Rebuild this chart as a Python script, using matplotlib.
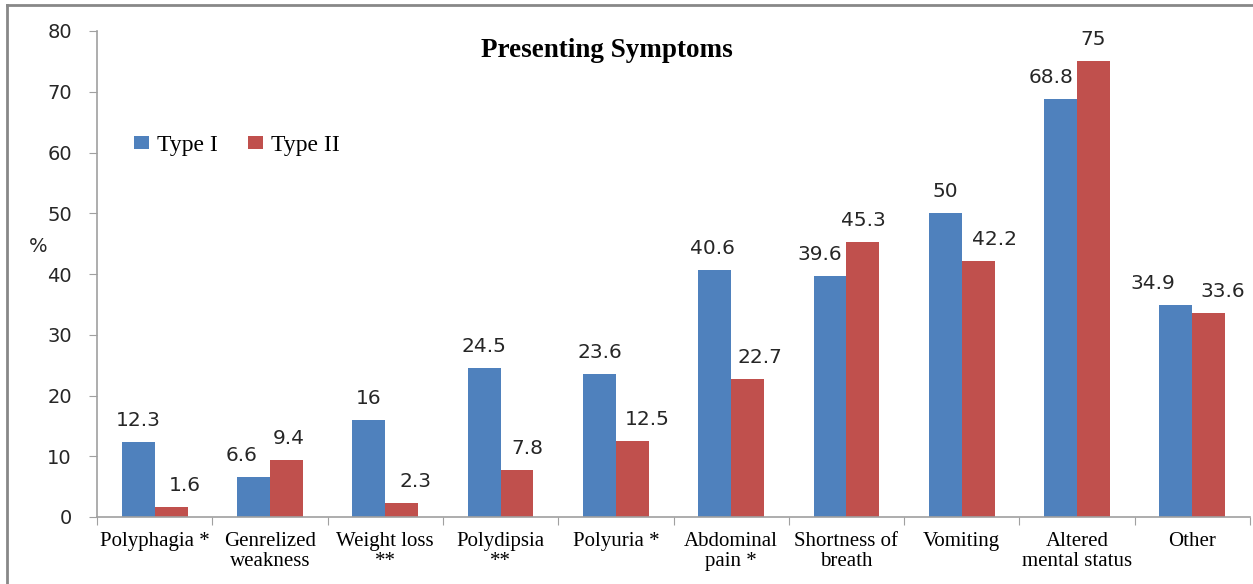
import numpy as np
import matplotlib
matplotlib.use("Agg")
import matplotlib.pyplot as plt
from matplotlib.lines import Line2D

categories = ["Polyphagia *", "Genrelized\nweakness", "Weight loss\n**", "Polydipsia\n**",
              "Polyuria *", "Abdominal\npain *", "Shortness of\nbreath", "Vomiting",
              "Altered\nmental status", "Other"]
type1 = [12.3, 6.6, 16, 24.5, 23.6, 40.6, 39.6, 50, 68.8, 34.9]
type2 = [1.6, 9.4, 2.3, 7.8, 12.5, 22.7, 45.3, 42.2, 75, 33.6]
yticks = [0, 10, 20, 30, 40, 50, 60, 70, 80]

# sideways nudges (pixels) of the value labels, as in the source chart
nudge1 = [0, -12, 0, 0, 0, -2, -10, 0, -10, -23]
nudge2 = [14, 2, 14, 10, 15, 12, 0, 16, 0, 14]

blue = "#4F81BD"
red = "#C0504D"
sans = ["DejaVu Sans"]
serif = ["Liberation Serif", "DejaVu Serif"]

fig = plt.figure(figsize=(12.53, 5.84), dpi=100)
ax = fig.add_axes([97 / 1253, 1 - 517 / 584, (1250 - 97) / 1253, (517 - 31) / 584])

x = np.arange(len(categories))
w = 0.285
b1 = ax.bar(x - w / 2, type1, w, color=blue, label="Type I")
b2 = ax.bar(x + w / 2, type2, w, color=red, label="Type II")

for bars, vals, nud in ((b1, type1, nudge1), (b2, type2, nudge2)):
    for r, v, n in zip(bars, vals, nud):
        ax.annotate(f"{v:g}", (r.get_x() + r.get_width() / 2, r.get_height()),
                    xytext=(n, 12), textcoords="offset pixels", ha="center", va="bottom",
                    fontsize=14.5, family=sans, color="#262626")

ax.set_xlim(-0.5, len(categories) - 0.5)
ax.set_ylim(0, 80)
ax.set_yticks(yticks)
ax.set_yticklabels([str(t) for t in yticks], family=sans, fontsize=14, color="#262626")
ax.set_xticks(np.arange(len(categories) + 1) - 0.5)
ax.set_xticklabels([])
ax.set_xticks(x, minor=True)
ax.set_xticklabels(categories, minor=True, family=serif, fontsize=15, linespacing=1.05,
                   va="top")
ax.tick_params(axis="x", which="minor", length=0, pad=11)
ax.tick_params(axis="x", which="major", length=6, color="#a0a0a0", direction="out")
ax.tick_params(axis="y", length=6, color="#a0a0a0", direction="out", pad=12)

for s in ("top", "right"):
    ax.spines[s].set_visible(False)
for s in ("left", "bottom"):
    ax.spines[s].set_color("#a0a0a0")
    ax.spines[s].set_linewidth(1.2)

ax.set_title("Presenting Symptoms", family=serif, fontweight="bold", fontsize=19.5,
             x=(607 - 97) / (1250 - 97), y=0.93)
fig.text(38 / 1253, 1 - 247 / 584, "%", family=sans, fontsize=14, ha="center", va="center",
         color="#262626")

leg = ax.legend(loc="center left", bbox_to_anchor=(0.032, 0.765), ncol=2, frameon=False,
                prop={"family": serif, "size": 17}, handlelength=0.62, handleheight=0.45,
                handletextpad=0.35, columnspacing=1.3, borderpad=0, borderaxespad=0)

# grey frame on top and left like the source image
fig.add_artist(Line2D([7 / 1253, 7 / 1253], [0, 1 - 5 / 584], transform=fig.transFigure,
                      color="#888888", lw=2))
fig.add_artist(Line2D([7 / 1253, 1], [1 - 5 / 584, 1 - 5 / 584], transform=fig.transFigure,
                      color="#888888", lw=2))

fig.savefig("out.png", dpi=100)
